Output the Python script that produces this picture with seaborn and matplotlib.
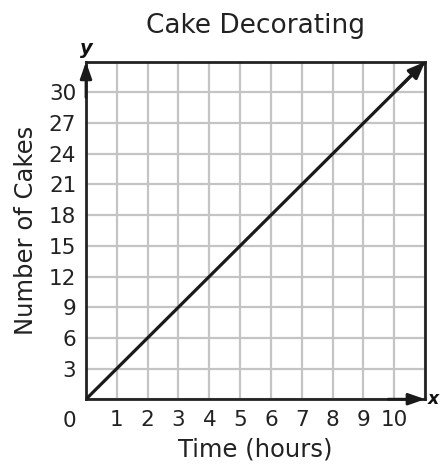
import matplotlib
matplotlib.use("Agg")
import matplotlib.pyplot as plt
import seaborn as sns
import pandas as pd

# data
hours = [0, 11]
cakes = [0, 33]
x_ticks = [1, 2, 3, 4, 5, 6, 7, 8, 9, 10]
y_ticks = [3, 6, 9, 12, 15, 18, 21, 24, 27, 30]

sns.set_style("white")
plt.rcParams["font.family"] = ["DejaVu Sans"]

df = pd.DataFrame({"Time (hours)": hours, "Number of Cakes": cakes})

fig = plt.figure(figsize=(4.41, 4.68), dpi=100)
ax = fig.add_axes([0.195, 0.147, 0.769, 0.721])

# grid lines
for gx in range(0, 12):
    ax.axvline(gx, color="#c4c4c4", lw=1.6, zorder=1)
for gy in range(0, 34, 3):
    ax.axhline(gy, color="#c4c4c4", lw=1.6, zorder=1)

sns.lineplot(data=df, x="Time (hours)", y="Number of Cakes", color="#1a1a1a", lw=2.3, ax=ax, zorder=3)
# arrow head at end of line
ax.annotate("", xy=(hours[-1], cakes[-1]), xytext=(hours[-1] - 0.9, cakes[-1] - 2.7),
            arrowprops=dict(arrowstyle="-|>,head_length=1.0,head_width=0.4", color="#1a1a1a", lw=2.3,
                            shrinkA=0, shrinkB=0),
            zorder=4)

ax.set_xlim(0, 11)
ax.set_ylim(0, 33)
ax.set_xticks(x_ticks)
ax.set_yticks(y_ticks)
ax.tick_params(length=0, labelsize=15.5, colors="#222222")
ax.tick_params(axis="x", pad=8)
ax.tick_params(axis="y", pad=7)
for s in ax.spines.values():
    s.set_color("#222222")
    s.set_linewidth(2)

# axis arrows
ax.annotate("", xy=(0, 33), xytext=(0, 29.5),
            arrowprops=dict(arrowstyle="-|>,head_length=1.0,head_width=0.35", color="#1a1a1a", lw=2,
                            shrinkA=0, shrinkB=0),
            annotation_clip=False, zorder=5)
ax.annotate("", xy=(11, 0), xytext=(9.8, 0),
            arrowprops=dict(arrowstyle="-|>,head_length=1.0,head_width=0.35", color="#1a1a1a", lw=2,
                            shrinkA=0, shrinkB=0),
            annotation_clip=False, zorder=5)

ax.text(-0.05, -0.065, "0", transform=ax.transAxes, ha="center", va="center", fontsize=15.5, color="#222222")
ax.text(0.0, 1.01, "y", transform=ax.transAxes, ha="center", va="bottom", fontsize=14,
        fontstyle="italic", fontweight="bold", color="#111111")
ax.text(1.008, 0.0, "x", transform=ax.transAxes, ha="left", va="center", fontsize=12.5,
        fontstyle="italic", fontweight="bold", color="#111111")

ax.set_xlabel("Time (hours)", fontsize=17.5, color="#222222", labelpad=5)
ax.set_ylabel("Number of Cakes", fontsize=17.5, color="#222222", labelpad=8)
ax.set_title("Cake Decorating", fontsize=19, color="#222222", pad=21)

fig.savefig("out.png", dpi=100)
